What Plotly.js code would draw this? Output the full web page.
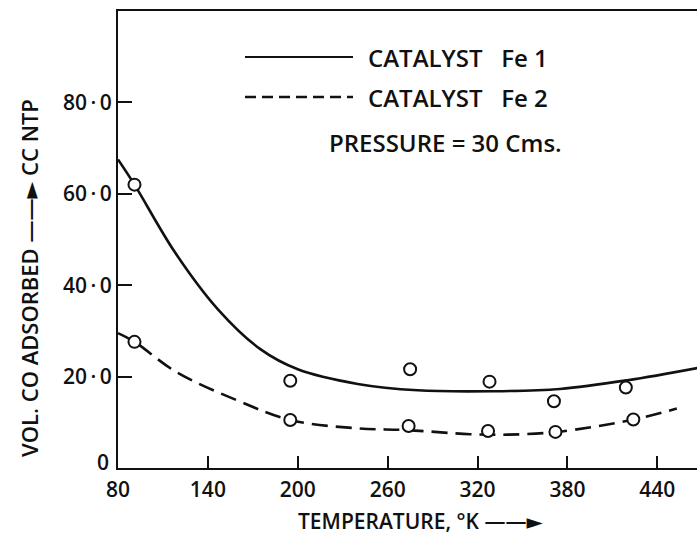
<!DOCTYPE html>
<html>
<head>
<meta charset="utf-8">
<script src="https://cdn.plot.ly/plotly-3.0.1.min.js"></script>
<style>html,body{margin:0;padding:0;background:#fff;}#chart{width:697px;height:538px;}</style>
</head>
<body>
<div id="chart"></div>
<script>
// Measured points (open circles)
const fe1PointsT = [91, 195, 275, 328, 371, 419];
const fe1PointsV = [62.0, 19.1, 21.6, 18.9, 14.6, 17.6];
const fe2PointsT = [91, 195, 274, 327, 372, 424];
const fe2PointsV = [27.6, 10.5, 9.2, 8.1, 7.9, 10.6];

// Hand-drawn smooth curves
const fe1CurveT = [80, 91, 118, 147, 175, 200, 240, 280, 330, 375, 420, 467];
const fe1CurveV = [67.5, 62.0, 47.2, 34.6, 26.0, 21.6, 18.4, 17.0, 16.8, 17.3, 19.2, 21.9];
const fe2CurveT = [80, 91, 119, 161, 195, 239, 273, 315, 340, 373, 424, 453];
const fe2CurveV = [29.5, 27.6, 21.0, 14.6, 10.5, 8.7, 8.3, 7.4, 7.3, 7.9, 10.6, 13.0];

const xTickVals = [80, 140, 200, 260, 320, 380, 440];
const xTickText = ["80", "140", "200", "260", "320", "380", "440"];
const yTickVals = [0, 20, 40, 60, 80];
const yTickText = ["", "20\u2009·\u20090", "40\u2009·\u20090", "60\u2009·\u20090", "80\u2009·\u20090"];
const yZeroLabel = "0";

const seriesNames = ["CATALYST\u00a0\u00a0 Fe 1", "CATALYST\u00a0\u00a0 Fe 2"];
const noteText = "PRESSURE = 30 Cms.";
const xTitle = "TEMPERATURE, °K ——►";
const yTitle = "VOL. CO ADSORBED ——► CC NTP";

const ink = "#111";
const FONT = "Open Sans, DejaVu Sans, sans-serif";

const traces = [
  {x: fe1CurveT, y: fe1CurveV, mode: "lines", line: {color: ink, width: 2.6, shape: "spline", smoothing: 1.0}, name: seriesNames[0], hoverinfo: "skip"},
  {x: fe2CurveT, y: fe2CurveV, mode: "lines", line: {color: ink, width: 2.6, dash: "16px,8px", shape: "spline", smoothing: 1.0}, name: seriesNames[1], hoverinfo: "skip"},
  {x: fe1PointsT, y: fe1PointsV, mode: "markers", marker: {symbol: "circle", size: 12, color: "#fff", line: {color: ink, width: 2}}, name: "Fe 1 data"},
  {x: fe2PointsT, y: fe2PointsV, mode: "markers", marker: {symbol: "circle", size: 12, color: "#fff", line: {color: ink, width: 2}}, name: "Fe 2 data"}
];

// plot area in pixels: x 118..697, y 11..468
const L = 118, R = 697, T = 11, B = 468;
const px = v => (v - L) / (R - L);
const py = v => (B - v) / (B - T);

const tf = (s) => ({family: FONT, size: s, color: ink, weight: 600});

const layout = {
  width: 697, height: 538,
  margin: {l: L, r: 697 - R, t: T, b: 538 - B, pad: 0},
  paper_bgcolor: "#fff", plot_bgcolor: "#fff",
  showlegend: false,
  font: {family: FONT, color: ink, size: 20},
  xaxis: {
    range: [80, 466.5], showgrid: false, zeroline: false,
    showline: true, linecolor: ink, linewidth: 2, mirror: true,
    ticks: "inside", ticklen: 12, tickwidth: 2, tickcolor: ink,
    tickvals: xTickVals, ticktext: xTickText,
    tickfont: tf(21), ticklabelstandoff: 2
  },
  yaxis: {
    range: [0, 100], showgrid: false, zeroline: false,
    showline: true, linecolor: ink, linewidth: 2, mirror: false,
    ticks: "inside", ticklen: 14, tickwidth: 2, tickcolor: ink,
    tickvals: yTickVals, ticktext: yTickText,
    tickfont: tf(21), ticklabelstandoff: 0
  },
  shapes: [
    {type: "line", xref: "paper", yref: "paper", x0: px(245), x1: px(353), y0: py(57), y1: py(57), line: {color: ink, width: 2.2}},
    {type: "line", xref: "paper", yref: "paper", x0: px(245), x1: px(353), y0: py(97), y1: py(97), line: {color: ink, width: 2.6, dash: "11px,6px"}}
  ],
  annotations: [
    {xref: "paper", yref: "y", x: px(110), y: 0, yshift: 6, xanchor: "right", yanchor: "middle", showarrow: false, borderpad: 0, text: yZeroLabel, font: tf(21)},
    {xref: "paper", yref: "paper", x: px(366), y: py(57), xanchor: "left", yanchor: "middle", showarrow: false, text: seriesNames[0], font: tf(24)},
    {xref: "paper", yref: "paper", x: px(366), y: py(97), xanchor: "left", yanchor: "middle", showarrow: false, text: seriesNames[1], font: tf(24)},
    {xref: "paper", yref: "paper", x: px(327), y: py(142), xanchor: "left", yanchor: "middle", showarrow: false, text: noteText, font: tf(24)},
    {xref: "paper", yref: "paper", x: px(420), y: py(521), xanchor: "center", yanchor: "middle", showarrow: false, borderpad: 0, text: xTitle, font: tf(21)},
    {xref: "paper", yref: "paper", x: px(29), y: py(278), xanchor: "center", yanchor: "middle", showarrow: false, textangle: -90, text: yTitle, font: tf(22)}
  ]
};

Plotly.newPlot("chart", traces, layout, {displayModeBar: false, staticPlot: true});
</script>
</body>
</html>
